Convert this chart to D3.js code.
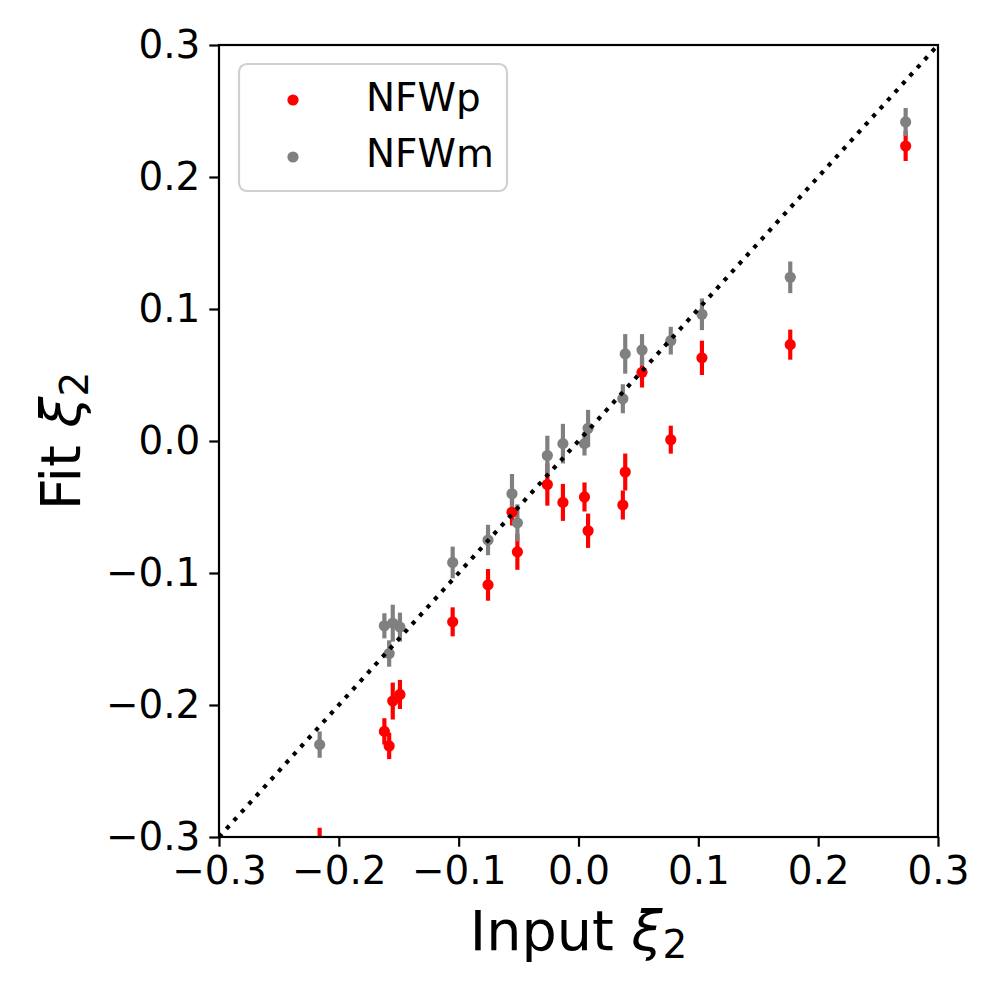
<!DOCTYPE html>
<html>
<head>
<meta charset="utf-8">
<script src="https://cdn.jsdelivr.net/npm/d3@7"></script>
<style>
  body { margin: 0; background: #fff; }
  text { font-family: "DejaVu Sans", sans-serif; fill: #000; }
</style>
</head>
<body>
<div id="chart"></div>
<script>
// input shear values (shared by both fits)
var inputXi = [-0.216, -0.162, -0.158, -0.155, -0.149, -0.105, -0.0755, -0.0555, -0.051,
  -0.026, -0.013, 0.005, 0.008, 0.037, 0.039, 0.053, 0.077, 0.103, 0.1767, 0.273];

// NFWp fit values and errors
var fitNFWp = [-0.305, -0.220, -0.231, -0.197, -0.192, -0.137, -0.109, -0.054, -0.084,
  -0.033, -0.0465, -0.0424, -0.068, -0.0485, -0.0235, 0.052, 0.001, 0.063, 0.073, 0.2235];
var errNFWp = [0.012, 0.010, 0.010, 0.014, 0.011, 0.011, 0.012, 0.010, 0.0136,
  0.016, 0.014, 0.011, 0.013, 0.011, 0.014, 0.0115, 0.0106, 0.013, 0.0114, 0.0114];

// NFWm fit values and errors
var fitNFWm = [-0.230, -0.140, -0.161, -0.138, -0.141, -0.092, -0.075, -0.040, -0.062,
  -0.011, -0.002, -0.002, 0.0096, 0.032, 0.066, 0.069, 0.076, 0.096, 0.124, 0.2417];
var errNFWm = [0.010, 0.0095, 0.010, 0.014, 0.011, 0.012, 0.0115, 0.015, 0.014,
  0.015, 0.015, 0.009, 0.014, 0.011, 0.015, 0.012, 0.0105, 0.012, 0.012, 0.0106];

var ticks = [-0.3, -0.2, -0.1, 0.0, 0.1, 0.2, 0.3];
var domain = [-0.3, 0.3];

// svg dimensions
var svgWidth = 1000;
var svgHeight = 1000;
var margin = { top: 45, right: 62, bottom: 163, left: 219 };
var width = svgWidth - margin.left - margin.right;
var height = svgHeight - margin.top - margin.bottom;

var lw = 4.17;   // 1.5pt at 200 dpi

var svg = d3.select("#chart")
  .append("svg")
  .attr("width", svgWidth)
  .attr("height", svgHeight);

var chartGroup = svg.append("g")
  .attr("transform", `translate(${margin.left}, ${margin.top})`);

svg.append("defs").append("clipPath")
  .attr("id", "plotclip")
  .append("rect")
  .attr("width", width)
  .attr("height", height);

var xScale = d3.scaleLinear().domain(domain).range([0, width]);
var yScale = d3.scaleLinear().domain(domain).range([height, 0]);

var fmt = function(d) { return d3.format(".1f")(d).replace("-", "\u2212"); };

// data layers
var plot = chartGroup.append("g").attr("clip-path", "url(#plotclip)");

var series = [
  { name: "NFWp", color: "red", y: fitNFWp, err: errNFWp },
  { name: "NFWm", color: "gray", y: fitNFWm, err: errNFWm }
];

// error bars first (both series), then markers
series.forEach(function(s) {
  plot.append("g").selectAll("line")
    .data(inputXi)
    .enter()
    .append("line")
    .attr("x1", d => xScale(d))
    .attr("x2", d => xScale(d))
    .attr("y1", (d, i) => yScale(s.y[i] - s.err[i]))
    .attr("y2", (d, i) => yScale(s.y[i] + s.err[i]))
    .attr("stroke", s.color)
    .attr("stroke-width", lw);
});

series.forEach(function(s) {
  plot.append("g").selectAll("circle")
    .data(inputXi)
    .enter()
    .append("circle")
    .attr("cx", d => xScale(d))
    .attr("cy", (d, i) => yScale(s.y[i]))
    .attr("r", 5.6)
    .attr("fill", s.color);
});

// one-to-one line
plot.append("line")
  .attr("x1", xScale(domain[0]))
  .attr("y1", yScale(domain[0]))
  .attr("x2", xScale(domain[1]))
  .attr("y2", yScale(domain[1]))
  .attr("stroke", "#000")
  .attr("stroke-width", lw)
  .attr("stroke-dasharray", `${lw},${lw * 1.65}`);

// axes
var bottomAxis = d3.axisBottom(xScale).tickValues(ticks).tickFormat(fmt)
  .tickSizeInner(9.7).tickSizeOuter(0).tickPadding(8);
var leftAxis = d3.axisLeft(yScale).tickValues(ticks).tickFormat(fmt)
  .tickSizeInner(9.7).tickSizeOuter(0).tickPadding(9);

var xAxis = chartGroup.append("g")
  .attr("transform", `translate(0, ${height})`)
  .call(bottomAxis);
var yAxis = chartGroup.append("g").call(leftAxis);

[xAxis, yAxis].forEach(function(a) {
  a.select(".domain").remove();
  a.selectAll("line").attr("stroke", "#000").attr("stroke-width", 2.2);
  a.selectAll("text").style("font-size", "38.9px").attr("fill", "#000");
});
xAxis.selectAll("text").attr("dy", "0.76em");

// frame
chartGroup.append("rect")
  .attr("width", width)
  .attr("height", height)
  .attr("fill", "none")
  .attr("stroke", "#000")
  .attr("stroke-width", 2.2);

// axis labels
function mathLabel(sel, word) {
  sel.append("tspan").text(word + " ");
  sel.append("tspan").style("font-style", "italic").text("\u03BE");
  sel.append("tspan").attr("dy", 8).style("font-size", "39px").text("2");
}

var xLabel = svg.append("text")
  .attr("x", margin.left + width / 2)
  .attr("y", 950)
  .attr("text-anchor", "middle")
  .style("font-size", "55.6px");
mathLabel(xLabel, "Input");

var yLabel = svg.append("text")
  .attr("transform", `translate(80, ${margin.top + height / 2}) rotate(-90)`)
  .attr("text-anchor", "middle")
  .style("font-size", "55.6px");
mathLabel(yLabel, "Fit");

// legend
var legend = svg.append("g");
legend.append("rect")
  .attr("x", 239)
  .attr("y", 64)
  .attr("width", 268)
  .attr("height", 127)
  .attr("rx", 8)
  .attr("fill", "#fff")
  .attr("fill-opacity", 0.8)
  .attr("stroke", "#d0d0d0")
  .attr("stroke-width", 2.2);

series.forEach(function(s, i) {
  legend.append("circle")
    .attr("cx", 293)
    .attr("cy", 100 + i * 57)
    .attr("r", 5.6)
    .attr("fill", s.color);
  legend.append("text")
    .attr("x", 366)
    .attr("y", 111 + i * 56)
    .style("font-size", "38.9px")
    .text(s.name);
});
</script>
</body>
</html>
